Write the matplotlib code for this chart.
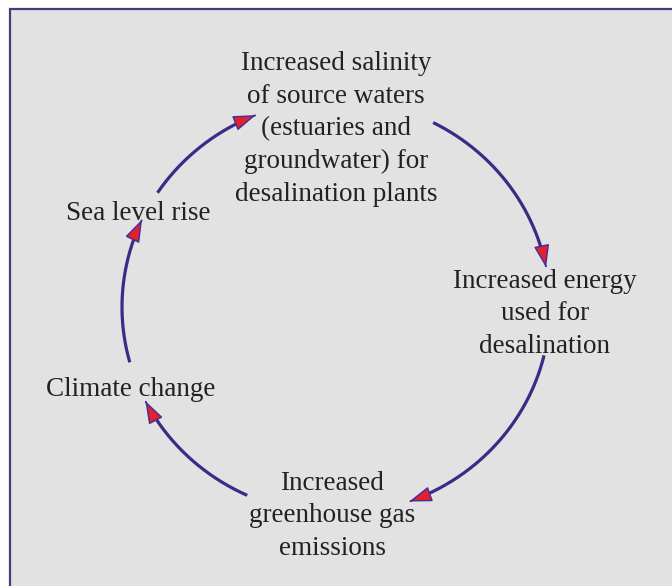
import numpy as np
import matplotlib
matplotlib.use("Agg")
import matplotlib.pyplot as plt
from matplotlib.patches import FancyArrowPatch, Rectangle
from matplotlib.path import Path

# ── data: the five stages of the feedback cycle (clockwise from top)
stages = [
    "Increased salinity\nof source waters\n(estuaries and\ngroundwater) for\ndesalination plants",
    "Increased energy\nused for\ndesalination",
    "Increased\ngreenhouse gas\nemissions",
    "Climate change",
    "Sea level rise",
]

# ── layout (pixel coords, y down)
label_xy = [(336, 129), (545, 314), (332, 516), (131, 389), (138, 214)]
# arcs leaving each stage: (start angle, end angle) in degrees on the ellipse
arc_angles = [(63.0, 11.0), (-13.5, -70.0), (245.5, 207.0), (195.5, 155.0), (146.5, 112.0)]
CX, CY, RX, RY = 336, 307, 214, 207
HEAD_PX = 20

W, H = 672, 586
fig = plt.figure(figsize=(W / 100, H / 100), dpi=100)
ax = fig.add_axes([0, 0, 1, 1])
ax.set_xlim(0, W)
ax.set_ylim(H, 0)
ax.axis("off")
fig.patch.set_facecolor("white")

ax.add_patch(Rectangle((9.5, 8.5), W + 20, H + 20, facecolor="#e2e2e2",
                       edgecolor="#4a3a7c", linewidth=1.6, zorder=0))

for (x, y), txt in zip(label_xy, stages):
    ax.text(x, y, txt, ha="center", va="center", fontsize=19.5,
            family="Liberation Serif", color="#222222", linespacing=1.4)

for a0, a1 in arc_angles:
    t = np.radians(np.linspace(a0, a1, 200))
    pts = np.column_stack([CX + RX * np.cos(t), CY - RY * np.sin(t)])
    # distance back from the tip, to split shaft and head
    back = np.hypot(*(pts - pts[-1]).T)
    k = np.argmax(back < HEAD_PX)
    ax.plot(pts[:k + 3, 0], pts[:k + 3, 1], color="#3b2a86", lw=2.3,
            solid_capstyle="butt", zorder=2)
    head = FancyArrowPatch(path=Path(pts[k - 2:]),
                           arrowstyle="-|>,head_length=1.4,head_width=0.48",
                           mutation_scale=10, linewidth=1.1,
                           facecolor="#e3202c", edgecolor="#4a2f96", zorder=3)
    ax.add_patch(head)

fig.savefig("out.png", dpi=100, facecolor=fig.get_facecolor())
